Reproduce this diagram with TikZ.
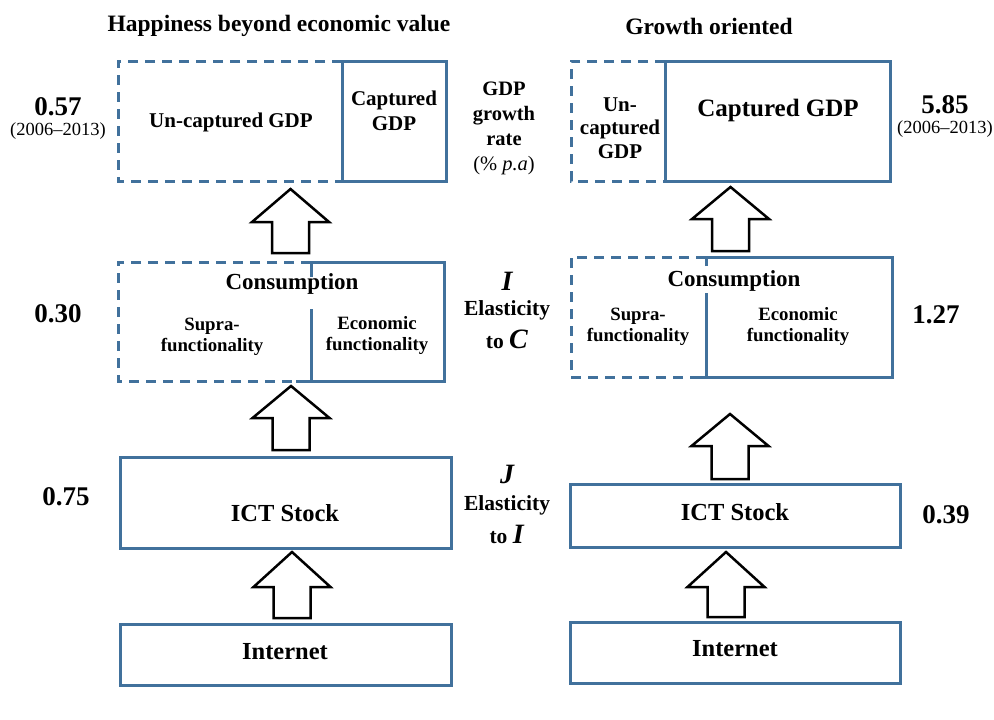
\documentclass[tikz,border=0pt]{standalone}
\usepackage{fontspec}
\setmainfont{Liberation Serif}
\definecolor{boxblue}{HTML}{41719C}
\newcommand{\blockup}[4]{%
  \draw[arr] ({#1-18.5},#4) -- ({#1-18.5},#3) -- ({#1-38.5},#3) -- (#1,#2)
    -- ({#1+38.5},#3) -- ({#1+18.5},#3) -- ({#1+18.5},#4) -- cycle;}
\begin{document}
\begin{tikzpicture}[x=1pt,y=-1pt,
  solidbox/.style={draw=boxblue,line width=3pt,inner sep=0pt},
  solidline/.style={draw=boxblue,line width=3pt},
  dashline/.style={draw=boxblue,line width=3pt,dash pattern=on 10pt off 7pt},
  arr/.style={draw=black,line width=2.5pt,fill=white,line join=miter},
  title/.style={font=\bfseries\fontsize{23.5}{27}\selectfont,inner sep=0pt},
  lbl/.style={font=\bfseries\fontsize{21}{25}\selectfont,align=center,inner sep=0pt},
  big/.style={font=\bfseries\fontsize{25}{29}\selectfont,align=center,inner sep=0pt},
  small/.style={font=\bfseries\fontsize{18.8}{21}\selectfont,align=center,inner sep=0pt},
  num/.style={font=\bfseries\fontsize{27}{30}\selectfont,inner sep=0pt},
  yrs/.style={font=\fontsize{18.5}{20}\selectfont,inner sep=0pt},
  side/.style={font=\bfseries\fontsize{20.5}{25}\selectfont,align=center,inner sep=0pt},
  elas/.style={font=\bfseries\fontsize{21.5}{25}\selectfont,align=center,inner sep=0pt},
  sym/.style={font=\bfseries\itshape\fontsize{28}{30}\selectfont,inner sep=0pt}]
\useasboundingbox (0,0) rectangle (994,720);

% titles
\node[title] (t1) at (279,26) {Happiness beyond economic value};
\node[title] (t2) at (709,26) {Growth oriented};

% ---------- top row: GDP ----------
\draw[dashline] (342,61) -- (118,61) -- (118,181) -- (342,181);
\node[solidbox,minimum width=104pt,minimum height=120pt] (capL) at (394,121) {};
\draw[dashline] (665,61) -- (571,61) -- (571,181) -- (665,181);
\node[solidbox,minimum width=225pt,minimum height=120pt] (capR) at (777.5,121) {};

\node[lbl] (uncL) at (231,122) {Un-captured GDP};
\node[lbl] (capLt) at (394,111) {Captured\\GDP};
\node[lbl,font=\bfseries\fontsize{21}{23.5}\selectfont] (uncR) at (620,128) {Un-\\captured\\GDP};
\node[big] (capRt) at (778,110) {Captured GDP};

\node[num] (n1) at (58,107) {0.57};
\node[yrs] (y1) at (58,131) {(2006--2013)};
\node[num] (n2) at (945,105) {5.85};
\node[yrs] (y2) at (945,129) {(2006--2013)};
\node[side] (gdpr) at (504,128) {GDP\\growth\\rate\\{\mdseries(\% \textit{p.a})}};

% ---------- middle row: consumption ----------
\draw[dashline] (311,262) -- (118,262) -- (118,381) -- (311,381);
\draw[solidline] (311,277) -- (311,262) -- (444,262) -- (444,381) -- (296,381);
\draw[solidline] (311,309) -- (311,381);
\draw[dashline] (706,257) -- (571,257) -- (571,377) -- (706,377);
\draw[solidline] (706,266) -- (706,257) -- (892,257) -- (892,377) -- (699,377);
\draw[solidline] (706,293) -- (706,377);

\node[lbl,font=\bfseries\fontsize{23}{25}\selectfont] (consL) at (292,284) {Consumption};
\node[small] (supL) at (212,337) {Supra-\\functionality};
\node[small] (ecoL) at (377,336) {Economic\\functionality};
\node[lbl,font=\bfseries\fontsize{23}{25}\selectfont] (consR) at (734,281) {Consumption};
\node[small] (supR) at (638,327) {Supra-\\functionality};
\node[small] (ecoR) at (798,327) {Economic\\functionality};

\node[num] (n3) at (58,314) {0.30};
\node[num] (n4) at (936,315) {1.27};
\node[sym] (symI) at (507,281) {I};
\node[elas] (el1) at (507,310) {Elasticity};
\node[elas] (to1) at (507,339) {to \textit{\fontsize{28}{30}\selectfont C}};

% ---------- ICT stock ----------
\node[solidbox,minimum width=331pt,minimum height=91pt] (ictL) at (285.5,502.5) {};
\node[solidbox,minimum width=330pt,minimum height=63pt] (ictR) at (735,515.5) {};
\node[lbl,font=\bfseries\fontsize{24.5}{27}\selectfont] (ictLt) at (285,513) {ICT Stock};
\node[lbl,font=\bfseries\fontsize{24.5}{27}\selectfont] (ictRt) at (735,512) {ICT Stock};
\node[num] (n5) at (66,497) {0.75};
\node[num] (n6) at (946,515) {0.39};
\node[sym] (symJ) at (507,474) {J};
\node[elas] (el2) at (507,505) {Elasticity};
\node[elas] (to2) at (507,534) {to \textit{\fontsize{28}{30}\selectfont I}};

% ---------- Internet ----------
\node[solidbox,minimum width=331pt,minimum height=61pt] (intL) at (285.5,654.5) {};
\node[solidbox,minimum width=330pt,minimum height=61pt] (intR) at (735,652.5) {};
\node[lbl,font=\bfseries\fontsize{24.5}{27}\selectfont] (intLt) at (285,652) {Internet};
\node[lbl,font=\bfseries\fontsize{24.5}{27}\selectfont] (intRt) at (735,649) {Internet};

% ---------- block arrows ----------
\blockup{290.5}{189}{222}{253}
\blockup{730.5}{187}{219}{251}
\blockup{291}{386}{418}{450}
\blockup{730}{414}{446}{479}
\blockup{292}{552}{587}{618}
\blockup{726}{552}{587}{617}
\end{tikzpicture}
\end{document}
